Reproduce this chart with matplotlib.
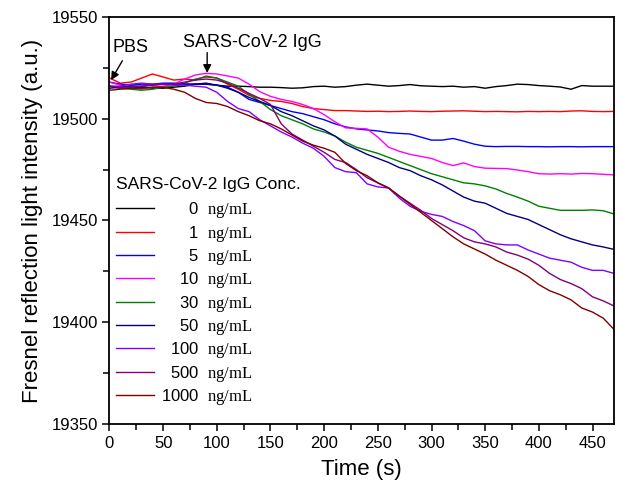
import numpy as np
import matplotlib
matplotlib.use("Agg")
import matplotlib.pyplot as plt
from matplotlib.ticker import MultipleLocator

plt.rcParams['font.family'] = ['Liberation Sans', 'DejaVu Sans']
plt.rcParams['mathtext.fontset'] = 'custom'
plt.rcParams['mathtext.rm'] = 'Liberation Serif'

time_s = np.arange(0, 471, 10)

conc_labels = ["0", "1", "5", "10", "30", "50", "100", "500", "1000"]
colors = ["#000000", "#ff0000", "#0000ff", "#ff00ff", "#008000",
          "#000080", "#8000ff", "#800080", "#800000"]

c0 = [19516, 19515, 19515, 19515.5, 19515, 19515, 19515.5, 19516, 19517, 19517.5,
      19516.5, 19516, 19516, 19515.8, 19515.5, 19515.5, 19515.3, 19515, 19515.2, 19515.8,
      19516, 19515.5, 19515.8, 19516.5, 19517, 19516.5, 19516, 19516.3, 19516.8, 19516.2,
      19516, 19515.8, 19516, 19515.5, 19515.8, 19515, 19515.8, 19516.3, 19517, 19516.8,
      19516.3, 19516, 19515.6, 19514.5, 19516.3, 19516, 19516, 19516]
c1 = [19520, 19517.5, 19518, 19520, 19522, 19520.5, 19519, 19519.5, 19519, 19521,
      19520, 19517, 19514.5, 19511.5, 19510, 19509, 19508.5, 19507.5, 19506, 19505,
      19504.5, 19504, 19504, 19503.8, 19503.6, 19503.7, 19503.5, 19503.6, 19503.8, 19503.6,
      19503.5, 19503.7, 19503.8, 19503.9, 19503.7, 19503.5, 19503.6, 19503.5, 19503.4, 19503.6,
      19503.5, 19503.6, 19503.5, 19503.8, 19503.9, 19503.6, 19503.5, 19503.6]
c5 = [19518, 19517, 19516.5, 19517, 19517, 19517.5, 19517.5, 19517, 19517, 19517,
      19516.5, 19515.5, 19513, 19509.5, 19508, 19506.5, 19505, 19503.5, 19502.5, 19501,
      19499.5, 19497.5, 19496, 19495, 19494.5, 19494, 19493.2, 19492.8, 19492.5, 19491,
      19489.5, 19489.5, 19490.3, 19489, 19487.5, 19486.5, 19486.3, 19486.4, 19486.4, 19486.3,
      19486.3, 19486.2, 19486.3, 19486.3, 19486.2, 19486.3, 19486.3, 19486.3]
c10 = [19518, 19516.5, 19515, 19514.5, 19515.5, 19516, 19517, 19519.5, 19521.5, 19522.3,
       19522, 19521, 19520, 19517, 19513.3, 19511, 19509.5, 19508.5, 19507, 19505,
       19502, 19498.5, 19495.5, 19495.3, 19495, 19491, 19486, 19484, 19482.5, 19481.5,
       19480.5, 19478.5, 19477, 19478.3, 19476.5, 19475.7, 19475.6, 19475.5, 19474.8, 19474,
       19473, 19472.8, 19473, 19472.8, 19473.1, 19473, 19472.7, 19472.4]
c30 = [19516, 19515, 19514.5, 19514, 19514.5, 19515.5, 19516, 19517.5, 19519.5, 19520.5,
       19520, 19518, 19516, 19512, 19508.5, 19504.5, 19501.5, 19499.5, 19497.5, 19495,
       19493.5, 19491.5, 19488.5, 19486, 19484.5, 19483, 19481, 19479, 19477, 19475,
       19473, 19471.5, 19470, 19468.5, 19468, 19467, 19465.5, 19463.3, 19461.5, 19459.5,
       19457, 19456, 19455, 19455, 19455, 19455.2, 19454.8, 19453.2]
c50 = [19515, 19515.5, 19516, 19516, 19516.5, 19517, 19517, 19517, 19517, 19517,
       19516.5, 19515, 19513, 19510.5, 19508.5, 19506.5, 19503.5, 19501.5, 19499, 19496.5,
       19494.5, 19491.5, 19487.5, 19485, 19482.5, 19480.5, 19478.5, 19476, 19474.5, 19472,
       19470, 19467.5, 19464.5, 19461.5, 19459.5, 19458.5, 19456, 19453.5, 19452, 19450.5,
       19448, 19445.5, 19443, 19441, 19439.5, 19438, 19437, 19435.8]
c100 = [19516, 19516, 19517, 19517.5, 19517, 19517, 19516.5, 19516.5, 19516, 19515.5,
        19513, 19508.5, 19505, 19503.5, 19499.5, 19496.5, 19493.5, 19491, 19488, 19485.5,
        19481.5, 19476, 19474, 19473.5, 19468, 19466.5, 19466, 19461, 19457, 19454.5,
        19453, 19452, 19449.5, 19447.5, 19445, 19440, 19438.5, 19438, 19438, 19435.5,
        19433.5, 19431.5, 19430.5, 19429.5, 19427, 19425.5, 19425.5, 19424]
c500 = [19516, 19515.5, 19515.5, 19516, 19516.5, 19517, 19517, 19518, 19519, 19519.5,
        19519, 19517.5, 19515, 19512.5, 19510, 19507, 19497.5, 19492.5, 19489.5, 19486.5,
        19483.5, 19480, 19478.5, 19475, 19471, 19468.5, 19466, 19462, 19458.5, 19455,
        19451, 19448, 19445, 19441.5, 19439.5, 19438.5, 19437, 19434.5, 19433, 19431,
        19428, 19424, 19421, 19419, 19416.5, 19412.5, 19410.5, 19408]
c1000 = [19514, 19514.5, 19515, 19515, 19515.5, 19515.5, 19514.5, 19513, 19510, 19508,
         19507.5, 19506, 19503.5, 19501.5, 19499, 19497.5, 19495, 19492, 19489, 19487,
         19485.5, 19483.5, 19478, 19474.5, 19472, 19468.5, 19466, 19462, 19458, 19454,
         19450, 19446, 19442, 19438.5, 19436, 19433.5, 19430.5, 19428, 19425.5, 19422.5,
         19418.5, 19415.5, 19413.5, 19411, 19407, 19405, 19402, 19396.5]

series = [c0, c1, c5, c10, c30, c50, c100, c500, c1000]

fig = plt.figure(figsize=(6.21, 4.94), dpi=100)
ax = fig.add_axes([0.1763, 0.1417, 0.8124, 0.8239])

for vals, lab, col in zip(series, conc_labels, colors):
    lbl = lab.rjust(4).replace(" ", "\u2007") + "  $\\mathrm{ng/mL}$"
    ax.plot(time_s, vals, color=col, lw=1.0, label=lbl)

ax.set_xlim(0, 470)
ax.set_ylim(19350, 19550)
ax.xaxis.set_major_locator(MultipleLocator(50))
ax.xaxis.set_minor_locator(MultipleLocator(25))
ax.yaxis.set_major_locator(MultipleLocator(50))
ax.yaxis.set_minor_locator(MultipleLocator(25))
ax.tick_params(which='both', direction='out', width=1.1, labelsize=12, top=False, right=False)
ax.tick_params(which='major', length=5)
ax.tick_params(which='minor', length=4)
for s in ax.spines.values():
    s.set_linewidth(1.3)

ax.set_xlabel("Time (s)", fontsize=16, labelpad=6)
ax.set_ylabel("Fresnel reflection light intensity (a.u.)", fontsize=16, labelpad=6)

arrow_kw = dict(arrowstyle='-|>', color='black', lw=1.0, mutation_scale=12,
                shrinkA=0, shrinkB=0)
ax.text(20, 19534.8, "PBS", fontsize=13, ha='center', va='center')
ax.annotate("", xy=(1.5, 19519), xytext=(12, 19528.5), arrowprops=arrow_kw)
ax.text(132.8, 19537.7, "SARS-CoV-2 IgG", fontsize=13, ha='center', va='center')
ax.annotate("", xy=(91, 19522.5), xytext=(91, 19532.5), arrowprops=arrow_kw)

leg = ax.legend(loc='upper left', bbox_to_anchor=(0.012, 0.607), frameon=False,
                fontsize=12, title="SARS-CoV-2 IgG Conc.", title_fontsize=12.5,
                handlelength=2.3, handletextpad=0.4, labelspacing=0.2,
                borderpad=0, borderaxespad=0, alignment='left')
leg._legend_box.sep = 6

fig.savefig("out.png", dpi=100)
